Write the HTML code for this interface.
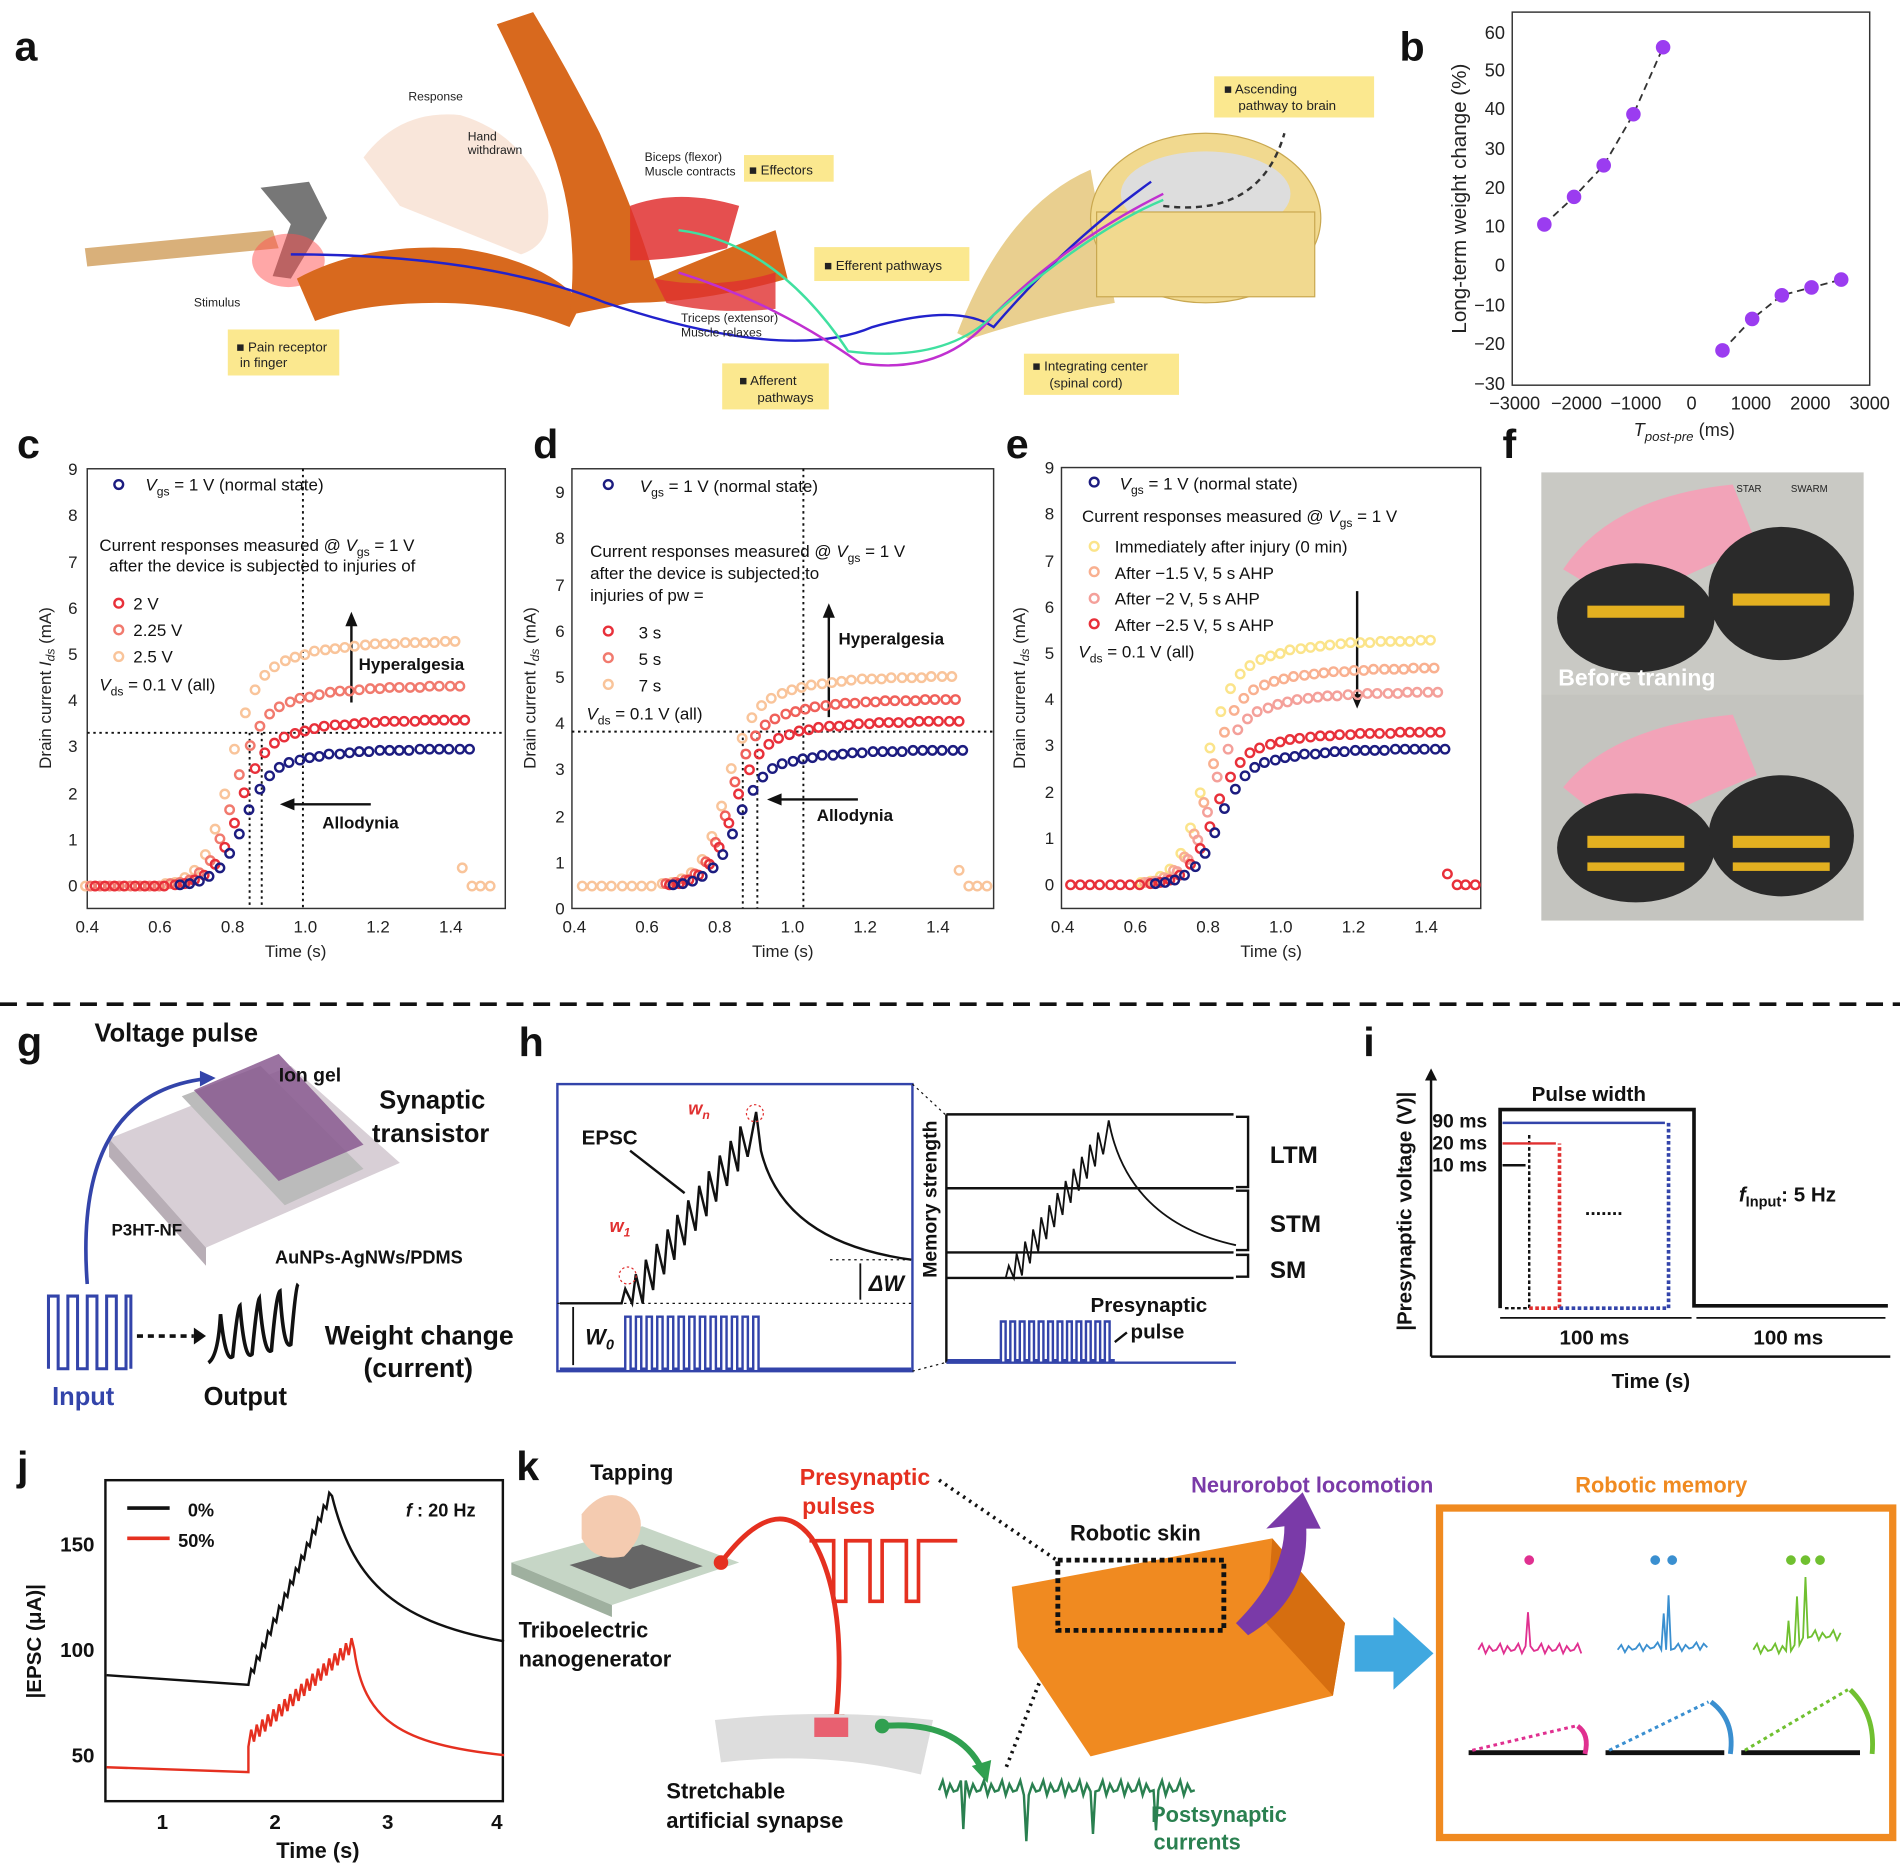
<!DOCTYPE html>
<html><head><meta charset="utf-8">
<style>
html,body{margin:0;padding:0;background:#fff;width:1900px;height:1869px;overflow:hidden;}
#w{position:relative;width:1568px;height:1543px;transform:scale(1.21173,1.21128);transform-origin:0 0;}
svg{display:block;position:absolute;left:0;top:0;font-family:"Liberation Sans",Arial,sans-serif;}
.p{position:absolute;left:0;top:0;width:0;height:0;}
.s{position:absolute;left:0;top:0;}
.s i{position:absolute;width:9px;height:9px;box-sizing:border-box;border:2px solid var(--c);border-radius:50%;
left:calc(var(--x0) + var(--dx) + var(--k)*8.25px - 4.5px);top:calc(var(--y0) - var(--h)*var(--f) - 4.5px);}
.k0{--k:0;--f:0}.k1{--k:1;--f:0}.k2{--k:2;--f:0}.k3{--k:3;--f:0}.k4{--k:4;--f:0}.k5{--k:5;--f:0}.k6{--k:6;--f:0}.k7{--k:7;--f:0}
.k8{--k:8;--f:.0065}.k9{--k:9;--f:.014}.k10{--k:10;--f:.03}.k11{--k:11;--f:.063}.k12{--k:12;--f:.127}.k13{--k:13;--f:.232}
.k14{--k:14;--f:.376}.k15{--k:15;--f:.557}.k16{--k:16;--f:.703}.k17{--k:17;--f:.799}.k18{--k:18;--f:.859}.k19{--k:19;--f:.894}
.k20{--k:20;--f:.917}.k21{--k:21;--f:.934}.k22{--k:22;--f:.945}.k23{--k:23;--f:.957}.k24{--k:24;--f:.964}.k25{--k:25;--f:.97}
.k26{--k:26;--f:.975}.k27{--k:27;--f:.979}.k28{--k:28;--f:.983}.k29{--k:29;--f:.986}.k30{--k:30;--f:.988}.k31{--k:31;--f:.99}
.k32{--k:32;--f:.992}.k33{--k:33;--f:.993}.k34{--k:34;--f:.994}.k35{--k:35;--f:.995}.k36{--k:36;--f:.996}.k37{--k:37;--f:.997}
.q1{--k:37.7;--f:.07}.q2{--k:38.7;--f:0}.q3{--k:39.6;--f:0}.q4{--k:40.5;--f:0}
</style></head>
<body><div id="w">
<svg width="1568" height="1543" viewBox="0 0 1568 1543" xmlns="http://www.w3.org/2000/svg">
<rect width="1568" height="1543" fill="#fff"/>
<g font-weight="bold" font-size="34" fill="#111">
<text x="12" y="50">a</text><text x="1155" y="50">b</text>
<text x="14" y="378">c</text><text x="440" y="378">d</text><text x="830" y="378">e</text><text x="1240" y="378">f</text>
<text x="14" y="872">g</text><text x="428" y="872">h</text><text x="1125" y="872">i</text>
<text x="14" y="1222">j</text><text x="426" y="1222">k</text>
</g>
<line x1="0" y1="829" x2="1568" y2="829" stroke="#111" stroke-width="3" stroke-dasharray="14,8"/>

<!-- Panel a -->
<g>
<path d="M300 130 Q330 90 380 95 Q430 110 450 160 Q460 200 430 210 Q380 190 330 170Z" fill="#f6dccb" opacity="0.7"/>
<path d="M70 205 L225 190 L230 205 L72 220Z" fill="#d9b07a"/>
<path d="M215 155 L255 150 L270 180 L240 230 L225 228 L240 185Z" fill="#777"/>
<ellipse cx="238" cy="215" rx="30" ry="22" fill="#ff5050" opacity="0.5"/>
<path d="M245 230 Q300 200 380 205 Q450 215 480 250 L470 270 Q420 250 360 250 Q300 250 260 265Z" fill="#d8691e"/>
<path d="M470 260 Q480 180 450 110 Q430 60 410 20 L440 10 Q470 60 495 110 Q530 190 540 230 Q600 205 640 190 L650 230 Q580 250 520 250Z" fill="#d8691e"/>
<path d="M520 170 Q560 155 610 170 L600 205 Q560 215 520 215Z" fill="#e03030" opacity="0.85"/>
<path d="M540 230 Q590 240 640 225 L640 255 Q590 260 550 250Z" fill="#e03030" opacity="0.8"/>
<path d="M790 275 Q830 170 900 140 L920 250 Q860 260 800 280Z" fill="#e9cf8f"/>
<ellipse cx="995" cy="180" rx="95" ry="70" fill="#f1d98f" stroke="#c9a850"/>
<ellipse cx="995" cy="160" rx="70" ry="35" fill="#ddd"/>
<rect x="905" y="175" width="180" height="70" fill="#f1d98f" stroke="#c9a850"/>
<path d="M240 210 Q400 210 500 250 Q650 300 720 270 Q790 250 820 270 Q880 200 950 150" fill="none" stroke="#2222cc" stroke-width="2"/>
<path d="M560 225 Q640 250 710 300 Q780 310 820 260 Q880 200 960 160" fill="none" stroke="#c030d0" stroke-width="2"/>
<path d="M560 190 Q640 200 700 290 Q780 300 820 260 Q900 190 960 165" fill="none" stroke="#40e0a0" stroke-width="2"/>
<path d="M960 170 Q1040 180 1060 110" fill="none" stroke="#333" stroke-width="2" stroke-dasharray="5,4"/>
<g fill="#fbe88f">
<rect x="188" y="272" width="92" height="38"/><rect x="596" y="300" width="88" height="38"/>
<rect x="672" y="204" width="128" height="28"/><rect x="614" y="128" width="74" height="22"/>
<rect x="845" y="292" width="128" height="34"/><rect x="1002" y="63" width="132" height="34"/>
</g>
<g font-size="11" fill="#222">
<text x="195" y="290">■ Pain receptor</text><text x="198" y="303">in finger</text>
<text x="610" y="318">■ Afferent</text><text x="625" y="332">pathways</text>
<text x="680" y="223">■ Efferent pathways</text>
<text x="618" y="144">■ Effectors</text>
<text x="852" y="306">■ Integrating center</text><text x="866" y="320">(spinal cord)</text>
<text x="1010" y="77">■ Ascending</text><text x="1022" y="91">pathway to brain</text>
<text x="160" y="253" font-size="10">Stimulus</text>
<text x="337" y="83" font-size="10">Response</text>
<text x="386" y="116" font-size="10">Hand</text><text x="386" y="127" font-size="10">withdrawn</text>
<text x="532" y="133" font-size="10">Biceps (flexor)</text><text x="532" y="145" font-size="10">Muscle contracts</text>
<text x="562" y="266" font-size="10">Triceps (extensor)</text><text x="562" y="278" font-size="10">Muscle relaxes</text>
</g>
</g>

<!-- Panel b -->
<g>
<rect x="1248" y="10" width="295" height="308" fill="none" stroke="#333" stroke-width="1.2"/>
<g font-size="15" fill="#222" text-anchor="end">
<text x="1242" y="32">60</text><text x="1242" y="63">50</text><text x="1242" y="95">40</text><text x="1242" y="128">30</text><text x="1242" y="160">20</text><text x="1242" y="192">10</text><text x="1242" y="224">0</text><text x="1242" y="257">−10</text><text x="1242" y="289">−20</text><text x="1242" y="322">−30</text>
</g>
<g font-size="15" fill="#222" text-anchor="middle">
<text x="1250" y="338">−3000</text><text x="1301" y="338">−2000</text><text x="1350" y="338">−1000</text><text x="1396" y="338">0</text><text x="1445" y="338">1000</text><text x="1494" y="338">2000</text><text x="1543" y="338">3000</text>
</g>
<text x="1390" y="360" font-size="15" fill="#222" font-style="italic" text-anchor="middle">T<tspan font-size="11" dy="4">post-pre</tspan><tspan dy="-4" font-style="normal"> (ms)</tspan></text>
<text transform="translate(1210 164) rotate(-90)" font-size="17" fill="#222" text-anchor="middle">Long-term weight change (%)</text>
<path d="M1274.5 185.3 L1299 162.5 L1323.5 136.5 L1348 94.3 L1372.5 39" fill="none" stroke="#333" stroke-width="1.5" stroke-dasharray="6,4"/>
<path d="M1421.5 289.3 L1446 263.3 L1470.5 243.8 L1495 237.3 L1519.5 230.8" fill="none" stroke="#333" stroke-width="1.5" stroke-dasharray="6,4"/>
<g fill="#9b3cf0">
<circle cx="1274.5" cy="185.3" r="6"/><circle cx="1299" cy="162.5" r="6"/><circle cx="1323.5" cy="136.5" r="6"/><circle cx="1348" cy="94.3" r="6"/><circle cx="1372.5" cy="39" r="6"/>
<circle cx="1421.5" cy="289.3" r="6"/><circle cx="1446" cy="263.3" r="6"/><circle cx="1470.5" cy="243.8" r="6"/><circle cx="1495" cy="237.3" r="6"/><circle cx="1519.5" cy="230.8" r="6"/>
</g>
</g>

<!-- Panel c axes -->
<g font-size="14" fill="#222">
<rect x="72" y="387" width="345" height="363" fill="none" stroke="#333" stroke-width="1.2"/>
<g text-anchor="middle"><text x="72" y="770">0.4</text><text x="132" y="770">0.6</text><text x="192" y="770">0.8</text><text x="252" y="770">1.0</text><text x="312" y="770">1.2</text><text x="372" y="770">1.4</text>
<text x="244" y="790">Time (s)</text></g>
<g text-anchor="end"><text x="64" y="736">0</text><text x="64" y="698">1</text><text x="64" y="660">2</text><text x="64" y="621">3</text><text x="64" y="583">4</text><text x="64" y="545">5</text><text x="64" y="507">6</text><text x="64" y="469">7</text><text x="64" y="430">8</text><text x="64" y="392">9</text></g>
<text transform="translate(42 568) rotate(-90)" text-anchor="middle">Drain current <tspan font-style="italic">I</tspan><tspan font-size="10" dy="3" font-style="italic">ds</tspan><tspan dy="-3"> (mA)</tspan></text>
</g>
<!-- Panel d axes -->
<g font-size="14" fill="#222">
<rect x="472" y="387" width="348" height="363" fill="none" stroke="#333" stroke-width="1.2"/>
<g text-anchor="middle"><text x="474" y="770">0.4</text><text x="534" y="770">0.6</text><text x="594" y="770">0.8</text><text x="654" y="770">1.0</text><text x="714" y="770">1.2</text><text x="774" y="770">1.4</text>
<text x="646" y="790">Time (s)</text></g>
<g text-anchor="end"><text x="466" y="755">0</text><text x="466" y="717">1</text><text x="466" y="679">2</text><text x="466" y="640">3</text><text x="466" y="602">4</text><text x="466" y="564">5</text><text x="466" y="526">6</text><text x="466" y="488">7</text><text x="466" y="449">8</text><text x="466" y="411">9</text></g>
<text transform="translate(442 568) rotate(-90)" text-anchor="middle">Drain current <tspan font-style="italic">I</tspan><tspan font-size="10" dy="3" font-style="italic">ds</tspan><tspan dy="-3"> (mA)</tspan></text>
</g>
<!-- Panel e axes -->
<g font-size="14" fill="#222">
<rect x="876" y="386" width="346" height="364" fill="none" stroke="#333" stroke-width="1.2"/>
<g text-anchor="middle"><text x="877" y="770">0.4</text><text x="937" y="770">0.6</text><text x="997" y="770">0.8</text><text x="1057" y="770">1.0</text><text x="1117" y="770">1.2</text><text x="1177" y="770">1.4</text>
<text x="1049" y="790">Time (s)</text></g>
<g text-anchor="end"><text x="870" y="735">0</text><text x="870" y="697">1</text><text x="870" y="659">2</text><text x="870" y="620">3</text><text x="870" y="582">4</text><text x="870" y="544">5</text><text x="870" y="506">6</text><text x="870" y="468">7</text><text x="870" y="429">8</text><text x="870" y="391">9</text></g>
<text transform="translate(846 568) rotate(-90)" text-anchor="middle">Drain current <tspan font-style="italic">I</tspan><tspan font-size="10" dy="3" font-style="italic">ds</tspan><tspan dy="-3"> (mA)</tspan></text>
</g>

<!-- c/d/e annotations -->
<g stroke="#111" stroke-width="1.6" stroke-dasharray="2,3">
<line x1="72" y1="605" x2="417" y2="605"/><line x1="206" y1="605" x2="206" y2="750"/><line x1="216" y1="605" x2="216" y2="750"/><line x1="250" y1="387" x2="250" y2="750"/>
<line x1="472" y1="604" x2="820" y2="604"/><line x1="613" y1="604" x2="613" y2="750"/><line x1="625" y1="604" x2="625" y2="750"/><line x1="663" y1="387" x2="663" y2="750"/>
</g>
<g fill="none" stroke-width="2">
<circle cx="98" cy="400" r="3.6" stroke="#1c1c80"/><circle cx="98" cy="498" r="3.6" stroke="#e8303a"/><circle cx="98" cy="520" r="3.6" stroke="#f17a6e"/><circle cx="98" cy="542" r="3.6" stroke="#f9c49a"/>
<circle cx="502" cy="400" r="3.6" stroke="#1c1c80"/><circle cx="502" cy="521" r="3.6" stroke="#e8303a"/><circle cx="502" cy="543" r="3.6" stroke="#f17a6e"/><circle cx="502" cy="565" r="3.6" stroke="#f9c49a"/>
<circle cx="903" cy="398" r="3.6" stroke="#1c1c80"/><circle cx="903" cy="451" r="3.6" stroke="#fbe48a"/><circle cx="903" cy="472" r="3.6" stroke="#f9b090"/><circle cx="903" cy="494" r="3.6" stroke="#f4a09a"/><circle cx="903" cy="515" r="3.6" stroke="#e8303a"/>
</g>
<g font-size="14" fill="#111">
<text x="120" y="405"><tspan font-style="italic">V</tspan><tspan font-size="10" dy="4">gs</tspan><tspan dy="-4"> = 1 V (normal state)</tspan></text>
<text x="82" y="455">Current responses measured @ <tspan font-style="italic">V</tspan><tspan font-size="10" dy="4">gs</tspan><tspan dy="-4"> = 1 V</tspan></text>
<text x="90" y="472">after the device is subjected to injuries of</text>
<text x="110" y="503">2 V</text><text x="110" y="525">2.25 V</text><text x="110" y="547">2.5 V</text>
<text x="82" y="570"><tspan font-style="italic">V</tspan><tspan font-size="10" dy="4">ds</tspan><tspan dy="-4"> = 0.1 V (all)</tspan></text>
<text x="296" y="553" font-weight="bold">Hyperalgesia</text><text x="266" y="684" font-weight="bold">Allodynia</text>

<text x="528" y="406"><tspan font-style="italic">V</tspan><tspan font-size="10" dy="4">gs</tspan><tspan dy="-4"> = 1 V (normal state)</tspan></text>
<text x="487" y="460">Current responses measured @ <tspan font-style="italic">V</tspan><tspan font-size="10" dy="4">gs</tspan><tspan dy="-4"> = 1 V</tspan></text>
<text x="487" y="478">after the device is subjected to</text><text x="487" y="496">injuries of pw =</text>
<text x="527" y="527">3 s</text><text x="527" y="549">5 s</text><text x="527" y="571">7 s</text>
<text x="484" y="594"><tspan font-style="italic">V</tspan><tspan font-size="10" dy="4">ds</tspan><tspan dy="-4"> = 0.1 V (all)</tspan></text>
<text x="692" y="532" font-weight="bold">Hyperalgesia</text><text x="674" y="678" font-weight="bold">Allodynia</text>

<text x="924" y="404"><tspan font-style="italic">V</tspan><tspan font-size="10" dy="4">gs</tspan><tspan dy="-4"> = 1 V (normal state)</tspan></text>
<text x="893" y="431">Current responses measured @ <tspan font-style="italic">V</tspan><tspan font-size="10" dy="4">gs</tspan><tspan dy="-4"> = 1 V</tspan></text>
<text x="920" y="456">Immediately after injury (0 min)</text><text x="920" y="478">After −1.5 V, 5 s AHP</text><text x="920" y="499">After −2 V, 5 s AHP</text><text x="920" y="521">After −2.5 V, 5 s AHP</text>
<text x="890" y="543"><tspan font-style="italic">V</tspan><tspan font-size="10" dy="4">ds</tspan><tspan dy="-4"> = 0.1 V (all)</tspan></text>
</g>
<g stroke="#111" stroke-width="2">
<line x1="290" y1="580" x2="290" y2="512"/><line x1="306" y1="664" x2="240" y2="664"/>
<line x1="684" y1="592" x2="684" y2="506"/><line x1="708" y1="660" x2="642" y2="660"/>
<line x1="1120" y1="488" x2="1120" y2="574"/>
</g>
<g fill="#111">
<polygon points="290,505 285,517 295,517"/><polygon points="231,664 243,659 243,669"/>
<polygon points="684,498 679,510 689,510"/><polygon points="633,660 645,655 645,665"/>
<polygon points="1120,585 1115,573 1125,573"/>
</g>

<!-- Panel f -->
<rect x="1272" y="390" width="266" height="183" fill="#c9c9c4"/>
<rect x="1272" y="573" width="266" height="187" fill="#c4c4bf"/>
<path d="M1290 470 Q1330 410 1430 400 L1450 450 Q1400 470 1340 500Z" fill="#f2a3b8"/>
<path d="M1290 650 Q1330 600 1430 590 L1450 640 Q1400 660 1340 690Z" fill="#f2a3b8"/>
<g fill="#2a2a2a"><ellipse cx="1350" cy="510" rx="65" ry="45"/><ellipse cx="1470" cy="490" rx="60" ry="55"/><ellipse cx="1350" cy="700" rx="65" ry="45"/><ellipse cx="1470" cy="690" rx="60" ry="50"/></g>
<g fill="#e3b020"><rect x="1310" y="500" width="80" height="10"/><rect x="1430" y="490" width="80" height="10"/><rect x="1310" y="690" width="80" height="10"/><rect x="1430" y="690" width="80" height="10"/><rect x="1310" y="712" width="80" height="7"/><rect x="1430" y="712" width="80" height="7"/></g>
<text x="1286" y="566" font-size="19" font-weight="bold" fill="#fff">Before traning</text>
<text x="1433" y="406" font-size="8" fill="#222">STAR</text><text x="1478" y="406" font-size="8" fill="#222">SWARM</text>

<!-- Panel g -->
<g>
<text x="78" y="860" font-size="21" font-weight="bold" fill="#111">Voltage pulse</text>
<path d="M90 940 L240 880 L330 960 L170 1030Z" fill="#d8cfd6"/>
<path d="M90 940 L170 1030 L170 1045 L90 955Z" fill="#b8aeb6"/>
<path d="M150 905 L215 880 L300 965 L235 995Z" fill="#bbb"/>
<path d="M160 900 L230 870 L300 945 L230 975Z" fill="#8a5a90" opacity="0.85"/>
<path d="M72 1060 Q60 900 175 890" fill="none" stroke="#3344aa" stroke-width="3"/>
<path d="M165 884 L178 890 L165 897Z" fill="#3344aa"/>
<text x="230" y="893" font-size="16" font-weight="bold" fill="#111">Ion gel</text>
<text x="313" y="915" font-size="21" font-weight="bold" fill="#111">Synaptic</text>
<text x="307" y="943" font-size="21" font-weight="bold" fill="#111">transistor</text>
<text x="92" y="1020" font-size="14" font-weight="bold" fill="#111">P3HT-NF</text>
<text x="227" y="1043" font-size="15" font-weight="bold" fill="#111">AuNPs-AgNWs/PDMS</text>
<path d="M40 1130 L40 1070 L48 1070 L48 1130 L56 1130 L56 1070 L64 1070 L64 1130 L72 1130 L72 1070 L80 1070 L80 1130 L88 1130 L88 1070 L96 1070 L96 1130 L104 1130 L104 1070 L108 1070 L108 1130" fill="none" stroke="#3344aa" stroke-width="2.5"/>
<line x1="113" y1="1103" x2="160" y2="1103" stroke="#111" stroke-width="3" stroke-dasharray="5,4"/>
<path d="M160 1096 L170 1103 L160 1110Z" fill="#111"/>
<path d="M172 1125 Q180 1120 182 1085 Q186 1125 192 1120 Q196 1080 198 1078 Q202 1125 208 1118 Q212 1075 214 1072 Q218 1120 224 1115 Q228 1068 231 1066 Q234 1115 240 1110 Q244 1062 246 1060" fill="none" stroke="#111" stroke-width="3"/>
<text x="43" y="1160" font-size="21" font-weight="bold" fill="#3344aa">Input</text>
<text x="168" y="1160" font-size="21" font-weight="bold" fill="#111">Output</text>
<text x="268" y="1110" font-size="22" font-weight="bold" fill="#111">Weight change</text>
<text x="300" y="1137" font-size="22" font-weight="bold" fill="#111">(current)</text>
</g>

<!-- Panel h -->
<g>
<rect x="460" y="895" width="293" height="237" fill="none" stroke="#3344aa" stroke-width="2"/>
<path d="M462 1076 L513 1076 L516 1064 L521.7 1076 L524.7 1052 L530.4 1076 L533 1040 L539 1065 L542 1027 L548 1052 L551 1015 L556.5 1040 L559 1003 L565 1028 L568 991 L574 1016 L577 979 L583 1004 L585 967 L591 992 L594 954 L600 979 L603 942 L609 967 L611 930 L617 955 L624 918 L628 950 C640 1000 680 1030 752 1040" fill="none" stroke="#111" stroke-width="2"/>
<line x1="460" y1="1076" x2="752" y2="1076" stroke="#111" stroke-dasharray="2,3"/>
<line x1="685" y1="1040" x2="752" y2="1040" stroke="#111" stroke-dasharray="2,3"/>
<path d="M462 1130 H516 v-43h4.4v43h4.4 v-43h4.4v43h4.4 v-43h4.4v43h4.4 v-43h4.4v43h4.4 v-43h4.4v43h4.4 v-43h4.4v43h4.4 v-43h4.4v43h4.4 v-43h4.4v43h4.4 v-43h4.4v43h4.4 v-43h4.4v43h4.4 v-43h4.4v43h4.4 v-43h4.4v43h4.4 v-43h4.4v43h4.4 H752" fill="none" stroke="#3344aa" stroke-width="2"/>
<line x1="473" y1="1079" x2="473" y2="1127" stroke="#111" stroke-width="1.5"/>
<text x="483" y="1110" font-size="18" font-weight="bold" font-style="italic" fill="#111">W<tspan font-size="12" dy="4">0</tspan></text>
<line x1="710" y1="1043" x2="710" y2="1073" stroke="#111" stroke-width="1.5"/>
<text x="717" y="1066" font-size="18" font-weight="bold" font-style="italic" fill="#111">ΔW</text>
<text x="480" y="945" font-size="17" font-weight="bold" fill="#111">EPSC</text>
<line x1="520" y1="950" x2="565" y2="985" stroke="#111" stroke-width="2"/>
<text x="568" y="920" font-size="15" font-weight="bold" font-style="italic" fill="#e03030">w<tspan font-size="10" dy="4">n</tspan></text>
<text x="503" y="1017" font-size="15" font-weight="bold" font-style="italic" fill="#e03030">w<tspan font-size="10" dy="4">1</tspan></text>
<circle cx="623" cy="919" r="7" fill="none" stroke="#e03030" stroke-dasharray="2,2"/>
<circle cx="518" cy="1053" r="7" fill="none" stroke="#e03030" stroke-dasharray="2,2"/>
<line x1="753" y1="895" x2="780" y2="920" stroke="#111" stroke-dasharray="2,3"/>
<line x1="753" y1="1132" x2="780" y2="1125" stroke="#111" stroke-dasharray="2,3"/>
<line x1="781" y1="920" x2="781" y2="1125" stroke="#111" stroke-width="2"/>
<line x1="781" y1="920" x2="1018" y2="920" stroke="#111" stroke-width="2"/>
<line x1="781" y1="981" x2="1018" y2="981" stroke="#111" stroke-width="2"/>
<line x1="781" y1="1034" x2="1018" y2="1034" stroke="#111" stroke-width="2"/>
<line x1="781" y1="1055" x2="1018" y2="1055" stroke="#111" stroke-width="2"/>
<line x1="781" y1="1125" x2="1020" y2="1125" stroke="#3344aa" stroke-width="2"/>
<path d="M783 1055 L830 1055 L832.5 1045 L836.7 1055 L839 1035 L843.4 1053 L846 1025 L850 1043 L852.6 1015 L856.8 1033 L859.3 1005 L863.5 1023 L866 995 L870 1013 L872.7 985 L876.9 1003 L879.4 975 L883.6 993 L886 965 L890.3 983 L892.8 955 L897 973 L899.5 945 L903.7 963 L906.2 935 L910.4 953 L915 925 C925 980 960 1015 1020 1028" fill="none" stroke="#111" stroke-width="1.5"/>
<path d="M782 1123 H826 v-32h3.9v32h3.9 v-32h3.9v32h3.9 v-32h3.9v32h3.9 v-32h3.9v32h3.9 v-32h3.9v32h3.9 v-32h3.9v32h3.9 v-32h3.9v32h3.9 v-32h3.9v32h3.9 v-32h3.9v32h3.9 v-32h3.9v32h3.9 v-32h3.9v32h3.9 v-32h3.9v32h3.9 H920" fill="none" stroke="#3344aa" stroke-width="2"/>
<text transform="translate(773 990) rotate(-90)" font-size="16" font-weight="bold" fill="#111" text-anchor="middle">Memory strength</text>
<path d="M1020 922 L1030 922 L1030 980 L1020 980 M1020 983 L1030 983 L1030 1032 L1020 1032 M1020 1036 L1030 1036 L1030 1054 L1020 1054" fill="none" stroke="#111" stroke-width="2"/>
<text x="1048" y="960" font-size="20" font-weight="bold" fill="#111">LTM</text>
<text x="1048" y="1017" font-size="20" font-weight="bold" fill="#111">STM</text>
<text x="1048" y="1055" font-size="20" font-weight="bold" fill="#111">SM</text>
<text x="900" y="1083" font-size="17" font-weight="bold" fill="#111">Presynaptic</text>
<text x="933" y="1105" font-size="17" font-weight="bold" fill="#111">pulse</text>
<line x1="930" y1="1100" x2="920" y2="1108" stroke="#111" stroke-width="2"/>
</g>

<!-- Panel i -->
<g>
<line x1="1181" y1="1120" x2="1181" y2="890" stroke="#111" stroke-width="2"/>
<path d="M1176 892 L1181 882 L1186 892Z" fill="#111"/>
<line x1="1181" y1="1120" x2="1560" y2="1120" stroke="#111" stroke-width="2"/>
<path d="M1238 1080 L1238 916 L1398 916 L1398 1078 L1558 1078" fill="none" stroke="#111" stroke-width="3"/>
<path d="M1242 1080 L1262 1080 L1262 935" fill="none" stroke="#111" stroke-width="2" stroke-dasharray="3,2"/>
<path d="M1262 1080 L1287 1080 L1287 944" fill="none" stroke="#e03030" stroke-width="3" stroke-dasharray="3,2"/>
<path d="M1287 1080 L1377 1080 L1377 927" fill="none" stroke="#3344aa" stroke-width="3" stroke-dasharray="3,2"/>
<line x1="1240" y1="927" x2="1374" y2="927" stroke="#3344aa" stroke-width="2"/>
<line x1="1240" y1="944" x2="1284" y2="944" stroke="#e03030" stroke-width="2"/>
<line x1="1240" y1="962" x2="1259" y2="962" stroke="#111" stroke-width="2"/>
<text x="1264" y="909" font-size="17" font-weight="bold" fill="#111">Pulse width</text>
<text x="1182" y="931" font-size="16" font-weight="bold" fill="#111">90 ms</text>
<text x="1182" y="949" font-size="16" font-weight="bold" fill="#111">20 ms</text>
<text x="1182" y="967" font-size="16" font-weight="bold" fill="#111">10 ms</text>
<text x="1308" y="1003" font-size="16" font-weight="bold" fill="#111">.......</text>
<text x="1435" y="992" font-size="17" font-weight="bold" font-style="italic" fill="#111">f<tspan font-size="12" dy="4" font-style="normal">Input</tspan><tspan dy="-4" font-style="normal">: 5 Hz</tspan></text>
<line x1="1238" y1="1088" x2="1396" y2="1088" stroke="#111" stroke-width="1.5"/>
<line x1="1400" y1="1088" x2="1556" y2="1088" stroke="#111" stroke-width="1.5"/>
<text x="1287" y="1110" font-size="17" font-weight="bold" fill="#111">100 ms</text>
<text x="1447" y="1110" font-size="17" font-weight="bold" fill="#111">100 ms</text>
<text x="1330" y="1146" font-size="17" font-weight="bold" fill="#111">Time (s)</text>
<text transform="translate(1165 1000) rotate(-90)" font-size="17" font-weight="bold" fill="#111" text-anchor="middle">|Presynaptic voltage (V)|</text>
</g>

<!-- Panel j -->
<g>
<rect x="87" y="1222" width="328" height="265" fill="none" stroke="#111" stroke-width="2"/>
<path d="M88 1383 L205 1391 l2.3,-13 l2.3,2.6 l2.3,-13 l2.3,2.6 l2.3,-13 l2.3,2.6 l2.3,-13 l2.3,2.6 l2.3,-13 l2.3,2.6 l2.3,-13 l2.3,2.6 l2.3,-13 l2.3,2.6 l2.3,-13 l2.3,2.6 l2.3,-13 l2.3,2.6 l2.3,-13 l2.3,2.6 l2.3,-13 l2.3,2.6 l2.3,-13 l2.3,2.6 l2.3,-13 l2.3,2.6 l2.3,-13 l2.3,2.6 l2.3,-13 l2.3,2.6 C290 1300 320 1338 416 1355" fill="none" stroke="#111" stroke-width="2"/>
<path d="M88 1459 L205 1463 L205 1442 l2.3,-14 l2.3,9.8 l2.3,-14 l2.3,9.8 l2.3,-14 l2.3,9.8 l2.3,-14 l2.3,9.8 l2.3,-14 l2.3,9.8 l2.3,-14 l2.3,9.8 l2.3,-14 l2.3,9.8 l2.3,-14 l2.3,9.8 l2.3,-14 l2.3,9.8 l2.3,-14 l2.3,9.8 l2.3,-14 l2.3,9.8 l2.3,-14 l2.3,9.8 l2.3,-14 l2.3,9.8 l2.3,-14 l2.3,9.8 l2.3,-14 l2.3,9.8 l2.3,-14 l2.3,9.8 l2.3,-14 l2.3,9.8 l2.3,-14 l2.3,9.8 l2.3,-14 l2.3,9.8 C300 1420 330 1440 416 1449" fill="none" stroke="#e53020" stroke-width="2"/>
<g font-size="17" font-weight="bold" fill="#111" text-anchor="end"><text x="78" y="1281">150</text><text x="78" y="1368">100</text><text x="78" y="1455">50</text></g>
<g font-size="17" font-weight="bold" fill="#111" text-anchor="middle"><text x="134" y="1510">1</text><text x="227" y="1510">2</text><text x="320" y="1510">3</text><text x="410" y="1510">4</text></g>
<text x="228" y="1534" font-size="18" font-weight="bold" fill="#111">Time (s)</text>
<text transform="translate(34 1355) rotate(-90)" font-size="17" font-weight="bold" fill="#111" text-anchor="middle">|EPSC (μA)|</text>
<line x1="105" y1="1245" x2="140" y2="1245" stroke="#111" stroke-width="3"/>
<line x1="105" y1="1270" x2="140" y2="1270" stroke="#e53020" stroke-width="3"/>
<text x="155" y="1252" font-size="15" font-weight="bold" fill="#111">0%</text>
<text x="147" y="1277" font-size="15" font-weight="bold" fill="#111">50%</text>
<text x="335" y="1252" font-size="15" font-weight="bold" font-style="italic" fill="#111">f<tspan font-style="normal"> : 20 Hz</tspan></text>
</g>

<!-- Panel k -->
<g>
<text x="487" y="1222" font-size="18" font-weight="bold" fill="#111">Tapping</text>
<path d="M422 1290 L530 1260 L610 1290 L505 1325Z" fill="#c6d6c6"/>
<path d="M422 1290 L505 1325 L505 1335 L422 1300Z" fill="#9fb09f"/>
<path d="M470 1292 L530 1275 L580 1293 L520 1312Z" fill="#666"/>
<path d="M480 1250 Q500 1225 520 1240 Q540 1260 515 1285 Q490 1290 480 1270Z" fill="#f4cbb0"/>
<circle cx="595" cy="1290" r="6" fill="#e53020"/>
<path d="M595 1290 Q640 1230 670 1270 Q700 1320 690 1420" fill="none" stroke="#e53020" stroke-width="4"/>
<path d="M683 1415 L690 1432 L697 1415Z" fill="#e53020"/>
<text x="428" y="1352" font-size="18" font-weight="bold" fill="#111">Triboelectric</text>
<text x="428" y="1376" font-size="18" font-weight="bold" fill="#111">nanogenerator</text>
<text x="660" y="1226" font-size="19" font-weight="bold" fill="#e53020">Presynaptic</text>
<text x="662" y="1250" font-size="19" font-weight="bold" fill="#e53020">pulses</text>
<path d="M668 1272 L688 1272 L688 1322 L698 1322 L698 1272 L718 1272 L718 1322 L728 1322 L728 1272 L748 1272 L748 1322 L758 1322 L758 1272 L790 1272" fill="none" stroke="#e53020" stroke-width="3"/>
<path d="M590 1420 Q680 1410 770 1420 L760 1465 Q680 1445 595 1455Z" fill="#ddd"/>
<rect x="672" y="1418" width="28" height="16" fill="#e86070"/>
<circle cx="728" cy="1425" r="6" fill="#30a050"/>
<path d="M728 1425 Q790 1420 810 1460" fill="none" stroke="#30a050" stroke-width="5"/>
<path d="M802 1458 L815 1472 L818 1453Z" fill="#30a050"/>
<text x="550" y="1485" font-size="18" font-weight="bold" fill="#111">Stretchable</text>
<text x="550" y="1509" font-size="18" font-weight="bold" fill="#111">artificial synapse</text>
<path d="M775 1478 l3,-8 l3,12 l3,-9 l3,6 l3,-1 l3,-8 l2,40 l2,-40 l3,12 l3,-9 l3,6 l3,-1 l3,-8 l3,12 l3,-9 l3,6 l3,-1 l3,-8 l3,12 l3,-9 l3,6 l3,-1 l3,-8 l3,12 l2,38 l2,-38 l3,-9 l3,6 l3,-1 l3,-8 l3,12 l3,-9 l3,6 l3,-1 l3,-8 l3,12 l3,-9 l3,6 l3,-1 l3,-8 l3,12 l3,-9 l3,6 l2,35 l2,-35 l3,-1 l3,-8 l3,12 l3,-9 l3,6 l3,-1 l3,-8 l3,12 l3,-9 l3,6 l3,-1 l3,-8 l3,12 l3,-9 l3,6 l3,-1 l2,33 l2,-33 l3,-8 l3,12 l3,-9 l3,6 l3,-1 l3,-8 l3,12 l3,-9 l3,6 l3,-1" fill="none" stroke="#2a8050" stroke-width="2"/>
<text x="950" y="1504" font-size="18" font-weight="bold" fill="#2a8050">Postsynaptic</text>
<text x="952" y="1527" font-size="18" font-weight="bold" fill="#2a8050">currents</text>
<line x1="775" y1="1222" x2="875" y2="1290" stroke="#111" stroke-width="3" stroke-dasharray="2,4"/>
<line x1="875" y1="1345" x2="830" y2="1460" stroke="#111" stroke-width="3" stroke-dasharray="2,4"/>
<path d="M835 1310 L1050 1270 L1110 1340 L1100 1400 L900 1450 L840 1360Z" fill="#f08a20"/>
<path d="M1050 1270 L1110 1340 L1100 1400 L1045 1340Z" fill="#d66e10"/>
<rect x="873" y="1288" width="137" height="58" fill="none" stroke="#111" stroke-width="4" stroke-dasharray="4,3"/>
<text x="883" y="1272" font-size="18" font-weight="bold" fill="#111">Robotic skin</text>
<path d="M1020 1340 Q1060 1300 1060 1260 L1045 1262 L1075 1232 L1090 1262 L1078 1262 Q1080 1320 1030 1350Z" fill="#7a3aa8"/>
<text x="983" y="1232" font-size="18" font-weight="bold" fill="#7a3aa8">Neurorobot locomotion</text>
<path d="M1118 1350 L1150 1350 L1150 1335 L1183 1365 L1150 1395 L1150 1380 L1118 1380Z" fill="#40a8e0"/>
<text x="1300" y="1232" font-size="18" font-weight="bold" fill="#f08a20">Robotic memory</text>
<rect x="1188" y="1245" width="374" height="272" fill="none" stroke="#f08a20" stroke-width="6"/>
<circle cx="1262" cy="1288" r="4" fill="#e03090"/>
<circle cx="1366" cy="1288" r="4" fill="#3a8fd0"/><circle cx="1380" cy="1288" r="4" fill="#3a8fd0"/>
<circle cx="1478" cy="1288" r="4" fill="#70c030"/><circle cx="1490" cy="1288" r="4" fill="#70c030"/><circle cx="1502" cy="1288" r="4" fill="#70c030"/>
<path d="M1220 1362 l3,-5 l3,8 l3,-6 l3,4 l3,-1 l3,-5 l3,8 l3,-6 l3,4 l3,-1 l3,-5 l3,8 l3,-6 l2,-28 l2,28 l3,4 l3,-1 l3,-5 l3,8 l3,-6 l3,4 l3,-1 l3,-5 l3,8 l3,-6 l3,4 l3,-1 l3,-5 l3,8" fill="none" stroke="#e03090" stroke-width="1.5"/>
<path d="M1335 1362 l3,-4 l3,6 l3,-5 l3,3 l3,-1 l3,-4 l3,6 l3,-5 l3,3 l3,-1 l3,-4 l3,6 l2,-30 l2,30 l2,-45 l2,45 l3,-1 l3,-4 l3,6 l3,-5 l3,3 l3,-1 l3,-4 l3,6 l3,-5 l3,3" fill="none" stroke="#3a8fd0" stroke-width="1.5"/>
<path d="M1447 1362 l3,-5 l3,8 l3,-6 l3,4 l3,-1 l3,-5 l3,8 l3,-6 l3,4 l2,-25 l2,25 l3,-5 l2,-40 l2,40 l3,-6 l2,-50 l2,50 l3,-1 l3,-5 l3,8 l3,-6 l3,4 l3,-1 l3,-5 l3,8 l3,-6" fill="none" stroke="#70c030" stroke-width="1.5"/>
<g stroke-width="4" stroke="#111"><line x1="1212" y1="1447" x2="1310" y2="1447"/><line x1="1325" y1="1447" x2="1423" y2="1447"/><line x1="1437" y1="1447" x2="1535" y2="1447"/></g>
<line x1="1215" y1="1445" x2="1300" y2="1425" stroke="#e03090" stroke-width="2.5" stroke-dasharray="3,3"/>
<line x1="1328" y1="1445" x2="1410" y2="1405" stroke="#3a8fd0" stroke-width="2.5" stroke-dasharray="3,3"/>
<line x1="1440" y1="1445" x2="1525" y2="1395" stroke="#70c030" stroke-width="2.5" stroke-dasharray="3,3"/>
<path d="M1302 1425 Q1312 1432 1308 1448" fill="none" stroke="#e03090" stroke-width="4"/>
<path d="M1412 1405 Q1432 1420 1428 1448" fill="none" stroke="#3a8fd0" stroke-width="4"/>
<path d="M1527 1395 Q1548 1415 1545 1448" fill="none" stroke="#70c030" stroke-width="4"/>
</g>
</svg>

<!-- Panel c circles -->
<div class="p" style="--x0:78px;--y0:731px;">
<div class="s" style="--h:202px;--c:#f9c49a;--dx:-8px"><i class=k0></i><i class=k1></i><i class=k2></i><i class=k3></i><i class=k4></i><i class=k5></i><i class=k6></i><i class=k7></i><i class=k8></i><i class=k9></i><i class=k10></i><i class=k11></i><i class=k12></i><i class=k13></i><i class=k14></i><i class=k15></i><i class=k16></i><i class=k17></i><i class=k18></i><i class=k19></i><i class=k20></i><i class=k21></i><i class=k22></i><i class=k23></i><i class=k24></i><i class=k25></i><i class=k26></i><i class=k27></i><i class=k28></i><i class=k29></i><i class=k30></i><i class=k31></i><i class=k32></i><i class=k33></i><i class=k34></i><i class=k35></i><i class=k36></i><i class=k37></i><i class=q1></i><i class=q2></i><i class=q3></i><i class=q4></i></div>
<div class="s" style="--h:165px;--c:#f17a6e;--dx:-4px"><i class=k0></i><i class=k1></i><i class=k2></i><i class=k3></i><i class=k4></i><i class=k5></i><i class=k6></i><i class=k7></i><i class=k8></i><i class=k9></i><i class=k10></i><i class=k11></i><i class=k12></i><i class=k13></i><i class=k14></i><i class=k15></i><i class=k16></i><i class=k17></i><i class=k18></i><i class=k19></i><i class=k20></i><i class=k21></i><i class=k22></i><i class=k23></i><i class=k24></i><i class=k25></i><i class=k26></i><i class=k27></i><i class=k28></i><i class=k29></i><i class=k30></i><i class=k31></i><i class=k32></i><i class=k33></i><i class=k34></i><i class=k35></i><i class=k36></i><i class=k37></i></div>
<div class="s" style="--h:137px;--c:#e8303a;--dx:0px"><i class=k0></i><i class=k1></i><i class=k2></i><i class=k3></i><i class=k4></i><i class=k5></i><i class=k6></i><i class=k7></i><i class=k8></i><i class=k9></i><i class=k10></i><i class=k11></i><i class=k12></i><i class=k13></i><i class=k14></i><i class=k15></i><i class=k16></i><i class=k17></i><i class=k18></i><i class=k19></i><i class=k20></i><i class=k21></i><i class=k22></i><i class=k23></i><i class=k24></i><i class=k25></i><i class=k26></i><i class=k27></i><i class=k28></i><i class=k29></i><i class=k30></i><i class=k31></i><i class=k32></i><i class=k33></i><i class=k34></i><i class=k35></i><i class=k36></i><i class=k37></i></div>
<div class="s" style="--h:113px;--c:#1c1c80;--dx:4px"><i class=k8></i><i class=k9></i><i class=k10></i><i class=k11></i><i class=k12></i><i class=k13></i><i class=k14></i><i class=k15></i><i class=k16></i><i class=k17></i><i class=k18></i><i class=k19></i><i class=k20></i><i class=k21></i><i class=k22></i><i class=k23></i><i class=k24></i><i class=k25></i><i class=k26></i><i class=k27></i><i class=k28></i><i class=k29></i><i class=k30></i><i class=k31></i><i class=k32></i><i class=k33></i><i class=k34></i><i class=k35></i><i class=k36></i><i class=k37></i></div>
</div>

<!-- Panel d circles -->
<div class="p" style="--x0:480px;--y0:731px;">
<div class="s" style="--h:173px;--c:#f9c49a;--dx:0px"><i class=k0></i><i class=k1></i><i class=k2></i><i class=k3></i><i class=k4></i><i class=k5></i><i class=k6></i><i class=k7></i><i class=k8></i><i class=k9></i><i class=k10></i><i class=k11></i><i class=k12></i><i class=k13></i><i class=k14></i><i class=k15></i><i class=k16></i><i class=k17></i><i class=k18></i><i class=k19></i><i class=k20></i><i class=k21></i><i class=k22></i><i class=k23></i><i class=k24></i><i class=k25></i><i class=k26></i><i class=k27></i><i class=k28></i><i class=k29></i><i class=k30></i><i class=k31></i><i class=k32></i><i class=k33></i><i class=k34></i><i class=k35></i><i class=k36></i><i class=k37></i><i class=q1></i><i class=q2></i><i class=q3></i><i class=q4></i></div>
<div class="s" style="--h:154px;--c:#f0605a;--dx:3px"><i class=k8></i><i class=k9></i><i class=k10></i><i class=k11></i><i class=k12></i><i class=k13></i><i class=k14></i><i class=k15></i><i class=k16></i><i class=k17></i><i class=k18></i><i class=k19></i><i class=k20></i><i class=k21></i><i class=k22></i><i class=k23></i><i class=k24></i><i class=k25></i><i class=k26></i><i class=k27></i><i class=k28></i><i class=k29></i><i class=k30></i><i class=k31></i><i class=k32></i><i class=k33></i><i class=k34></i><i class=k35></i><i class=k36></i><i class=k37></i></div>
<div class="s" style="--h:136px;--c:#e8303a;--dx:6px"><i class=k8></i><i class=k9></i><i class=k10></i><i class=k11></i><i class=k12></i><i class=k13></i><i class=k14></i><i class=k15></i><i class=k16></i><i class=k17></i><i class=k18></i><i class=k19></i><i class=k20></i><i class=k21></i><i class=k22></i><i class=k23></i><i class=k24></i><i class=k25></i><i class=k26></i><i class=k27></i><i class=k28></i><i class=k29></i><i class=k30></i><i class=k31></i><i class=k32></i><i class=k33></i><i class=k34></i><i class=k35></i><i class=k36></i><i class=k37></i></div>
<div class="s" style="--h:112px;--c:#1c1c80;--dx:9px"><i class=k8></i><i class=k9></i><i class=k10></i><i class=k11></i><i class=k12></i><i class=k13></i><i class=k14></i><i class=k15></i><i class=k16></i><i class=k17></i><i class=k18></i><i class=k19></i><i class=k20></i><i class=k21></i><i class=k22></i><i class=k23></i><i class=k24></i><i class=k25></i><i class=k26></i><i class=k27></i><i class=k28></i><i class=k29></i><i class=k30></i><i class=k31></i><i class=k32></i><i class=k33></i><i class=k34></i><i class=k35></i><i class=k36></i><i class=k37></i></div>
</div>

<!-- Panel e circles -->
<div class="p" style="--x0:883px;--y0:730px;">
<div class="s" style="--h:202px;--c:#fbe48a;--dx:-8px"><i class=k8></i><i class=k9></i><i class=k10></i><i class=k11></i><i class=k12></i><i class=k13></i><i class=k14></i><i class=k15></i><i class=k16></i><i class=k17></i><i class=k18></i><i class=k19></i><i class=k20></i><i class=k21></i><i class=k22></i><i class=k23></i><i class=k24></i><i class=k25></i><i class=k26></i><i class=k27></i><i class=k28></i><i class=k29></i><i class=k30></i><i class=k31></i><i class=k32></i><i class=k33></i><i class=k34></i><i class=k35></i><i class=k36></i><i class=k37></i></div>
<div class="s" style="--h:179px;--c:#f9b090;--dx:-5px"><i class=k8></i><i class=k9></i><i class=k10></i><i class=k11></i><i class=k12></i><i class=k13></i><i class=k14></i><i class=k15></i><i class=k16></i><i class=k17></i><i class=k18></i><i class=k19></i><i class=k20></i><i class=k21></i><i class=k22></i><i class=k23></i><i class=k24></i><i class=k25></i><i class=k26></i><i class=k27></i><i class=k28></i><i class=k29></i><i class=k30></i><i class=k31></i><i class=k32></i><i class=k33></i><i class=k34></i><i class=k35></i><i class=k36></i><i class=k37></i></div>
<div class="s" style="--h:159px;--c:#f4a09a;--dx:-2px"><i class=k8></i><i class=k9></i><i class=k10></i><i class=k11></i><i class=k12></i><i class=k13></i><i class=k14></i><i class=k15></i><i class=k16></i><i class=k17></i><i class=k18></i><i class=k19></i><i class=k20></i><i class=k21></i><i class=k22></i><i class=k23></i><i class=k24></i><i class=k25></i><i class=k26></i><i class=k27></i><i class=k28></i><i class=k29></i><i class=k30></i><i class=k31></i><i class=k32></i><i class=k33></i><i class=k34></i><i class=k35></i><i class=k36></i><i class=k37></i></div>
<div class="s" style="--h:126px;--c:#e8303a;--dx:0px"><i class=k0></i><i class=k1></i><i class=k2></i><i class=k3></i><i class=k4></i><i class=k5></i><i class=k6></i><i class=k7></i><i class=k8></i><i class=k9></i><i class=k10></i><i class=k11></i><i class=k12></i><i class=k13></i><i class=k14></i><i class=k15></i><i class=k16></i><i class=k17></i><i class=k18></i><i class=k19></i><i class=k20></i><i class=k21></i><i class=k22></i><i class=k23></i><i class=k24></i><i class=k25></i><i class=k26></i><i class=k27></i><i class=k28></i><i class=k29></i><i class=k30></i><i class=k31></i><i class=k32></i><i class=k33></i><i class=k34></i><i class=k35></i><i class=k36></i><i class=k37></i><i class=q1></i><i class=q2></i><i class=q3></i><i class=q4></i></div>
<div class="s" style="--h:112px;--c:#1c1c80;--dx:4px"><i class=k8></i><i class=k9></i><i class=k10></i><i class=k11></i><i class=k12></i><i class=k13></i><i class=k14></i><i class=k15></i><i class=k16></i><i class=k17></i><i class=k18></i><i class=k19></i><i class=k20></i><i class=k21></i><i class=k22></i><i class=k23></i><i class=k24></i><i class=k25></i><i class=k26></i><i class=k27></i><i class=k28></i><i class=k29></i><i class=k30></i><i class=k31></i><i class=k32></i><i class=k33></i><i class=k34></i><i class=k35></i><i class=k36></i><i class=k37></i></div>
</div>
</div>
</body></html>
